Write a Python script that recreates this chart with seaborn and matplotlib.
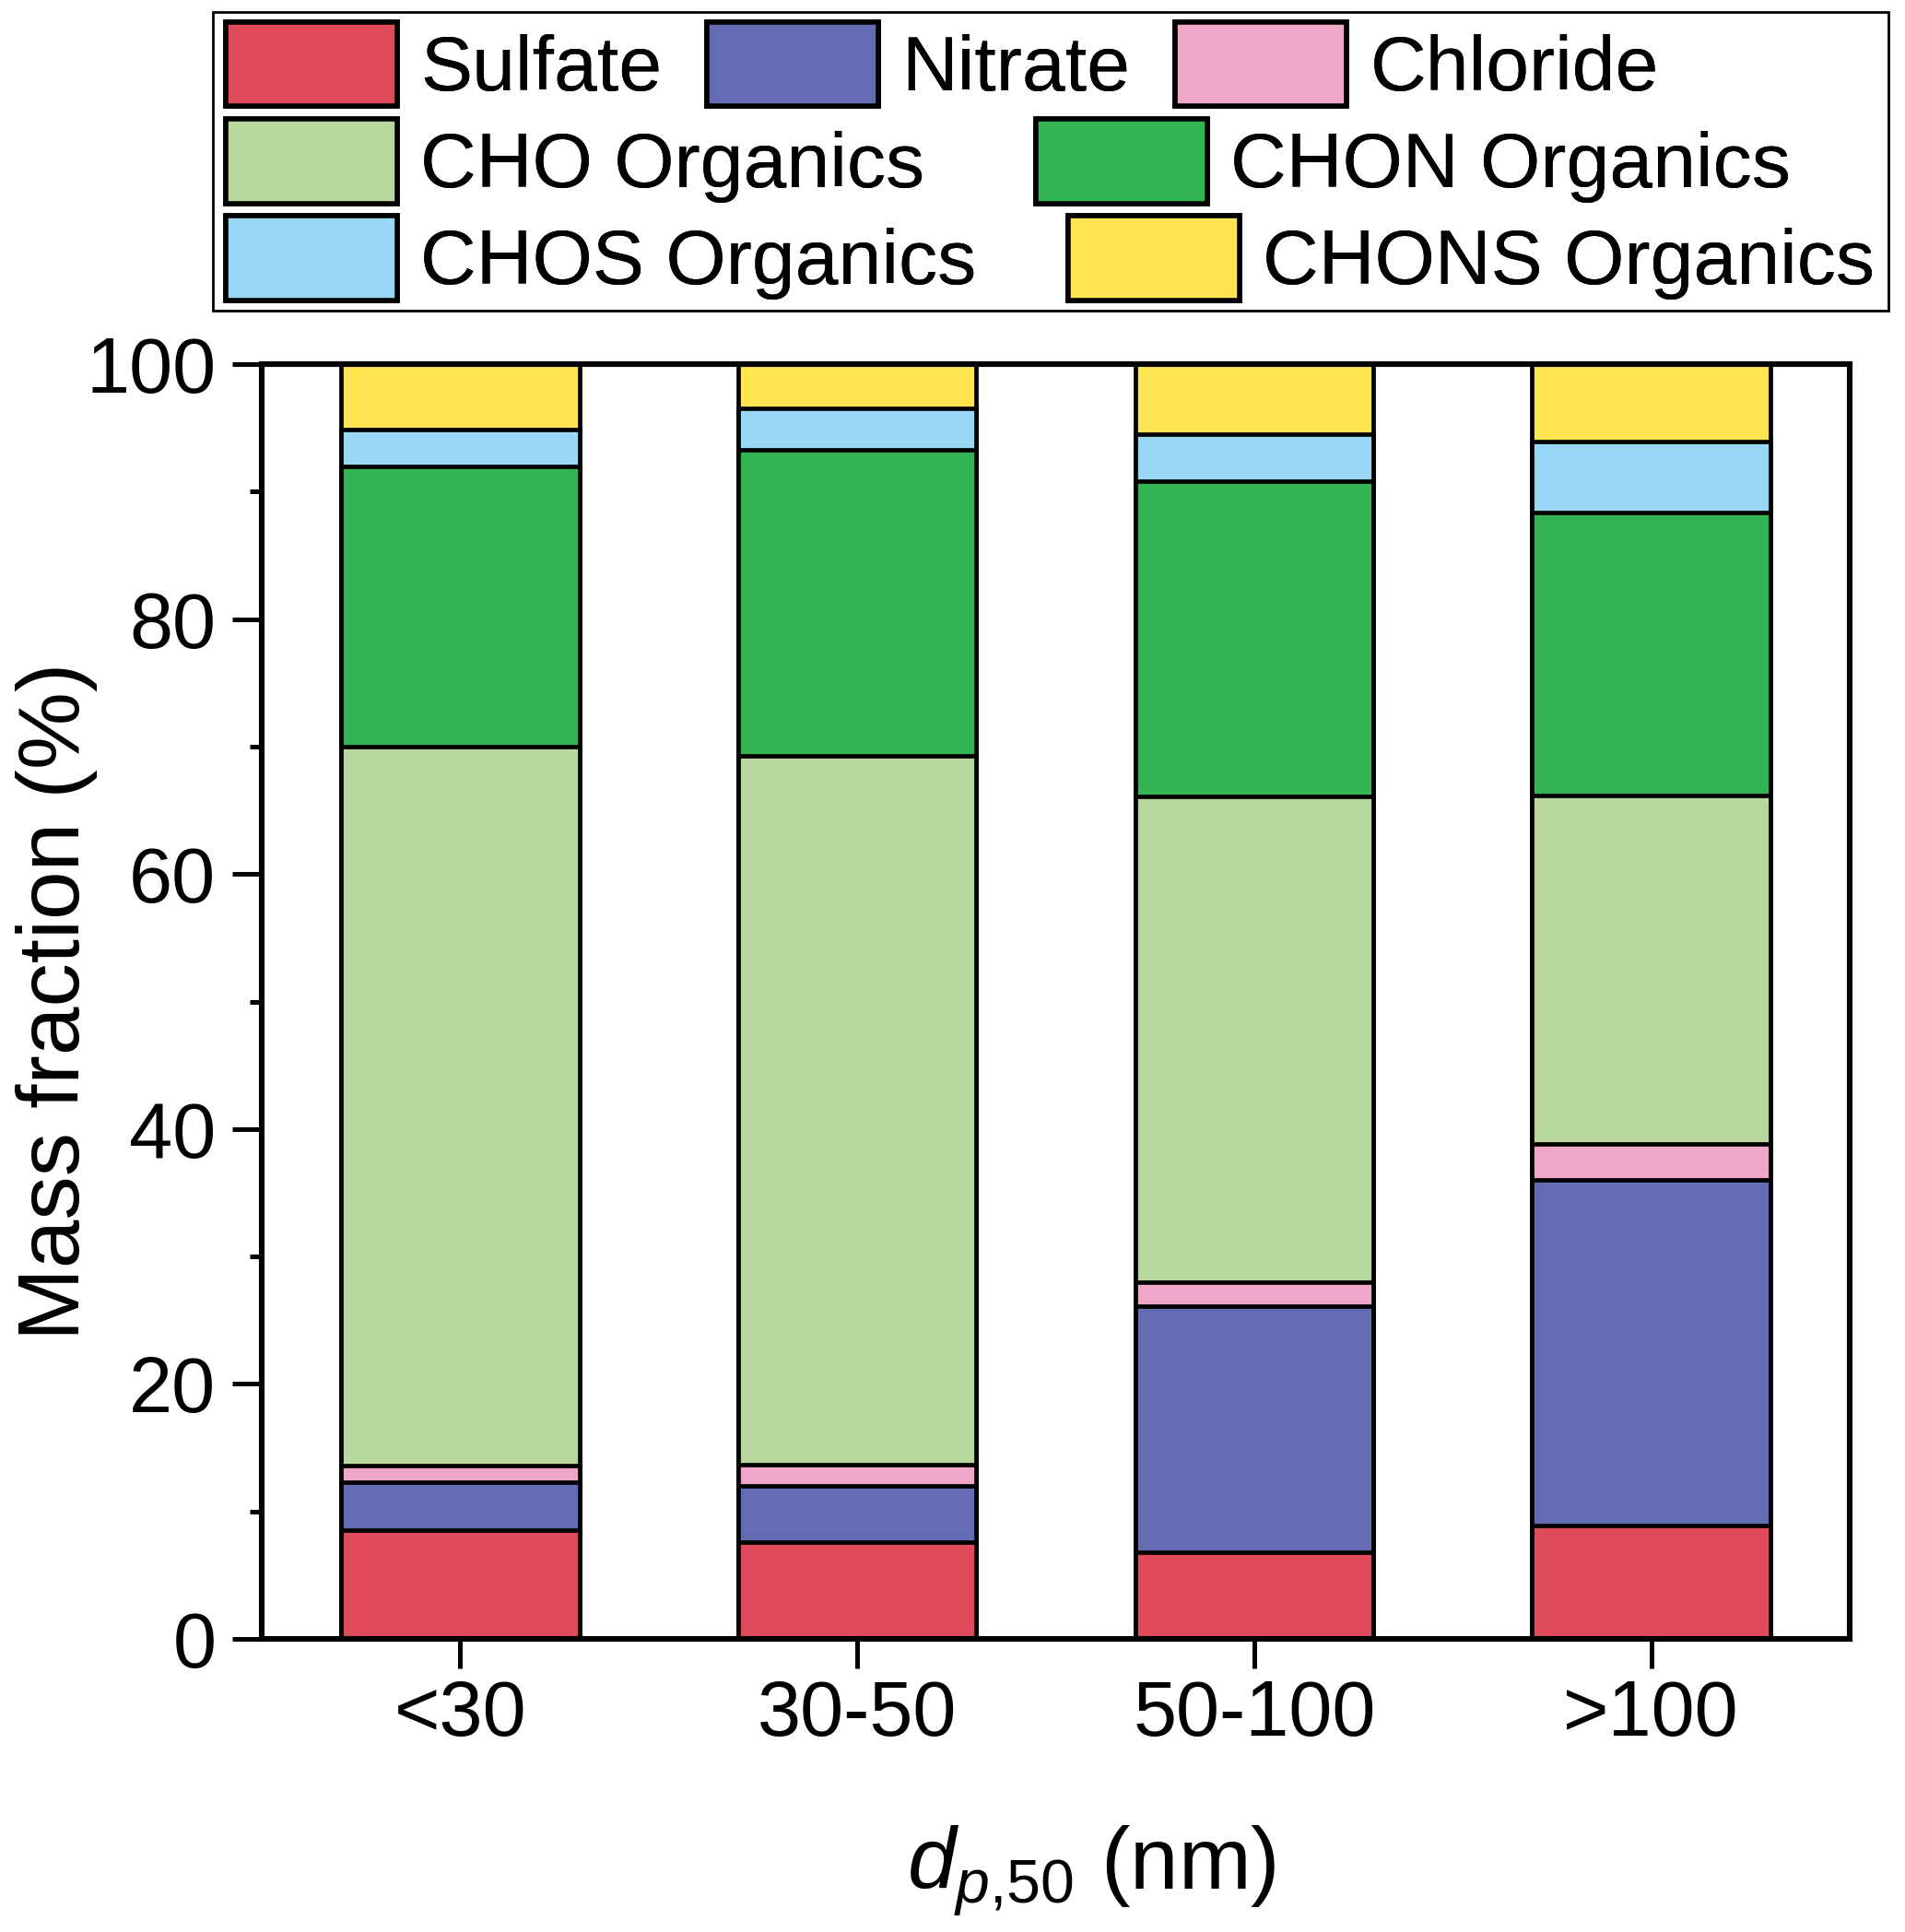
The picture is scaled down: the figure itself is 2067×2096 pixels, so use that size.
import numpy as np
import pandas as pd
import matplotlib
matplotlib.use('Agg')
from matplotlib import pyplot as plt
import matplotlib.patches as mpatches
from matplotlib.ticker import MultipleLocator
import seaborn as sns

sns.set_style("ticks")
plt.rcParams['font.family'] = ['Liberation Sans', 'DejaVu Sans']
plt.rcParams['mathtext.fontset'] = 'custom'
plt.rcParams['mathtext.rm'] = 'Liberation Sans'
plt.rcParams['mathtext.it'] = 'Liberation Sans:italic'
for k in ['text.color', 'axes.labelcolor', 'xtick.color', 'ytick.color', 'axes.edgecolor']:
    plt.rcParams[k] = 'black'

# 粒径分档
sizes = ['<30', '30-50', '50-100', '>100']
species = ['Sulfate', 'Nitrate', 'Chloride', 'CHO Organics',
           'CHON Organics', 'CHOS Organics', 'CHONS Organics']
colors = ['#E04B5B', '#646CB3', '#EFA6C8', '#B8D8A0',
          '#33B554', '#98D7F6', '#FFE552']

sulfate = [8.5, 7.6, 6.8, 8.9]
nitrate = [3.8, 4.4, 19.3, 27.1]
chloride = [1.3, 1.7, 1.9, 2.8]
cho = [56.4, 55.6, 38.1, 27.4]
chon = [22.0, 24.0, 24.7, 22.2]
chos = [2.9, 3.2, 3.7, 5.5]
chons = [5.1, 3.5, 5.5, 6.1]

df = pd.DataFrame({'size': sizes, 'Sulfate': sulfate, 'Nitrate': nitrate,
                   'Chloride': chloride, 'CHO Organics': cho,
                   'CHON Organics': chon, 'CHOS Organics': chos,
                   'CHONS Organics': chons})
cum = df[species].cumsum(axis=1)

fig = plt.figure(figsize=(10.335, 10.48), dpi=200)
ax = fig.add_axes([0.1374, 0.1517, 0.8336, 0.6598])

# 从最上层往下画累计高度
for sp, c in zip(species[::-1], colors[::-1]):
    sns.barplot(x=df['size'], y=cum[sp], color=c, width=0.6, saturation=1,
                edgecolor='black', linewidth=1.7, ax=ax, order=sizes)

ax.set_xlim(-0.5, 3.5)
ax.set_ylim(0, 100)
ax.set_yticks(range(0, 101, 20))
ax.yaxis.set_minor_locator(MultipleLocator(10))
ax.tick_params(axis='y', which='major', length=11.4, width=1.8, labelsize=30.5, pad=6.5)
ax.tick_params(axis='y', which='minor', length=4.8, width=1.8)
ax.tick_params(axis='x', length=11.4, width=1.8, labelsize=30.5, pad=4)
for s in ax.spines.values():
    s.set_linewidth(2.2)
    s.set_visible(True)

ax.set_ylabel('Mass fraction (%)', fontsize=34)
ax.set_xlabel(r'$\mathit{d}_{\mathit{p{,}50}}$ (nm)', fontsize=34)
ax.yaxis.label.set_va('baseline')
ax.xaxis.label.set_va('baseline')
ax.yaxis.set_label_coords(-0.115, 0.5)
ax.xaxis.set_label_coords(0.5225, -0.196)

# 图例: 三行, 每行单独一个 legend
handles = [mpatches.Patch(facecolor=c, edgecolor='black', linewidth=2) for c in colors]
rows = [(0, 3, 0.9668, 0.58), (3, 5, 0.9165, 1.43), (5, 7, 0.8664, 1.18)]
for a, b, yy, cs in rows:
    leg = fig.legend(handles[a:b], species[a:b], loc='center left',
                     bbox_to_anchor=(0.1185, yy), ncol=b - a, frameon=False,
                     fontsize=30.3, borderpad=0, borderaxespad=0,
                     handlelength=2.21, handleheight=1.29, handletextpad=0.30,
                     columnspacing=cs)
    fig.add_artist(leg)

fig.add_artist(mpatches.Rectangle((0.1118, 0.8392), 0.8795, 0.1546,
                                  transform=fig.transFigure, fill=False,
                                  edgecolor='black', linewidth=1))

plt.savefig('out.png', dpi=200)
